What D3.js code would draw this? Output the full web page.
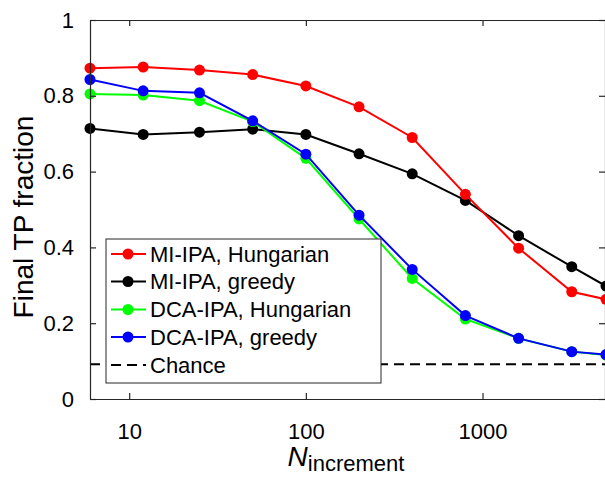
<!DOCTYPE html>
<html><head><meta charset="utf-8">
<script src="https://cdn.jsdelivr.net/npm/d3@7"></script>
<style>body{margin:0;background:#fff}svg{display:block}text{font-family:"Liberation Sans",Arial,sans-serif}</style>
</head><body><svg id="c" width="605" height="479"></svg>
<script>
const xValues = [6, 12, 25, 50, 100, 200, 400, 800, 1600, 3200, 5000];
const miHungarian = [0.873, 0.876, 0.868, 0.856, 0.826, 0.771, 0.690, 0.540, 0.398, 0.283, 0.263];
const miGreedy = [0.714, 0.698, 0.704, 0.712, 0.698, 0.647, 0.594, 0.524, 0.431, 0.349, 0.298];
const dcaHungarian = [0.805, 0.802, 0.787, 0.732, 0.635, 0.475, 0.318, 0.211, 0.160, 0.125, 0.116];
const dcaGreedy = [0.843, 0.813, 0.808, 0.734, 0.646, 0.485, 0.342, 0.220, 0.160, 0.125, 0.117];
const chance = 0.0915;
const seriesNames = ["MI-IPA, Hungarian", "MI-IPA, greedy", "DCA-IPA, Hungarian", "DCA-IPA, greedy"];
const seriesColors = ["#ff0000", "#000000", "#00ff00", "#0000ff"];
const xTicks = [10, 100, 1000];
const yTicks = [0, 0.2, 0.4, 0.6, 0.8, 1];

const svg = d3.select("#c");
const L = 90, R = 606, T = 20, B = 399;
const x = d3.scaleLog().domain([6, 5000]).range([L, R]);
const y = d3.scaleLinear().domain([0, 1]).range([B, T]);
const fs = 22;

// chance line
svg.append("line").attr("x1", L).attr("x2", R).attr("y1", y(chance)).attr("y2", y(chance))
  .attr("stroke", "#000").attr("stroke-width", 2).attr("stroke-dasharray", "10,6");

const series = [miHungarian, miGreedy, dcaHungarian, dcaGreedy];
const line = d3.line().x((d, i) => x(xValues[i])).y(d => y(d));
[1, 0, 2, 3].forEach(k => {
  const g = svg.append("g");
  g.append("path").datum(series[k]).attr("d", line).attr("fill", "none")
    .attr("stroke", seriesColors[k]).attr("stroke-width", 2);
  g.selectAll("circle").data(series[k]).join("circle")
    .attr("cx", (d, i) => x(xValues[i])).attr("cy", d => y(d)).attr("r", 5.5)
    .attr("fill", seriesColors[k]);
});

// axes
const axB = svg.append("g").attr("transform", `translate(0,${B})`)
  .call(d3.axisBottom(x).tickValues(xTicks).tickFormat(d3.format("d")).tickSizeInner(-6).tickSizeOuter(0).tickPadding(24));
const axT = svg.append("g").attr("transform", `translate(0,${T})`)
  .call(d3.axisTop(x).tickValues(xTicks).tickFormat("").tickSizeInner(-6).tickSizeOuter(0));
const axL = svg.append("g").attr("transform", `translate(${L},0)`)
  .call(d3.axisLeft(y).tickValues(yTicks).tickFormat(d => d === 0 || d === 1 ? d3.format("d")(d) : d3.format(".1f")(d)).tickSizeInner(-6).tickSizeOuter(0).tickPadding(16));
const axR = svg.append("g").attr("transform", `translate(${R - 1},0)`)
  .call(d3.axisRight(y).tickValues(yTicks).tickFormat("").tickSizeInner(-6).tickSizeOuter(0));
[axB, axT, axL, axR].forEach(a => {
  a.selectAll("path,line").attr("stroke", "#262626").attr("stroke-width", 1.2);
  a.selectAll("text").attr("font-size", fs).attr("fill", "#000").style("font-family", '"Liberation Sans",Arial,sans-serif');
});
axB.selectAll(".tick text").attr("dy", "0.71em");

// legend
const lg = svg.append("g");
lg.append("rect").attr("x", 106).attr("y", 239).attr("width", 275).attr("height", 144)
  .attr("fill", "#fff").attr("stroke", "#262626").attr("stroke-width", 1);
const rowY = [254, 281.5, 309.5, 337, 365];
seriesNames.forEach((n, k) => {
  lg.append("line").attr("x1", 111).attr("x2", 146).attr("y1", rowY[k]).attr("y2", rowY[k])
    .attr("stroke", seriesColors[k]).attr("stroke-width", 2);
  lg.append("circle").attr("cx", 128).attr("cy", rowY[k]).attr("r", 5.5).attr("fill", seriesColors[k]);
  lg.append("text").attr("x", 150).attr("y", rowY[k]).attr("dy", "0.36em").attr("font-size", 22).text(n);
});
lg.append("line").attr("x1", 111).attr("x2", 146).attr("y1", rowY[4]).attr("y2", rowY[4])
  .attr("stroke", "#000").attr("stroke-width", 2).attr("stroke-dasharray", "10,6");
lg.append("text").attr("x", 150).attr("y", rowY[4]).attr("dy", "0.36em").attr("font-size", 22).text("Chance");

// axis labels
const xl = svg.append("text").attr("x", 346).attr("y", 466).attr("text-anchor", "middle");
xl.append("tspan").attr("font-size", 28).attr("font-style", "italic").text("N");
xl.append("tspan").attr("font-size", 22).attr("dy", 5).text("increment");
svg.append("text").attr("transform", "translate(33,217) rotate(-90)").attr("text-anchor", "middle")
  .attr("font-size", 28).text("Final TP fraction");
</script></body></html>
